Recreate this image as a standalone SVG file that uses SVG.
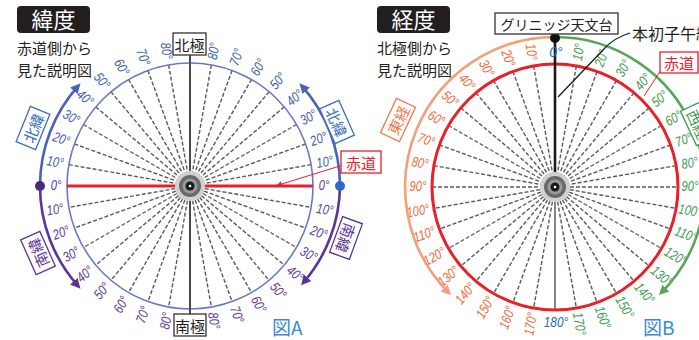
<svg xmlns="http://www.w3.org/2000/svg" width="699" height="340" viewBox="0 0 699 340">
<style>
.t{font-family:"Liberation Sans","Noto Sans CJK JP",sans-serif;font-size:14px;font-style:italic;text-anchor:middle;dominant-baseline:central}
.lb{fill:#3d5cb5}.lp{fill:#633a9c}.eo{fill:#f26b3a}.wg{fill:#3f9a52}.bl{fill:#2a68b8}
.ttl{font-family:"Noto Sans CJK JP",sans-serif;font-size:22px;fill:#fff;text-anchor:middle}
.sub{font-family:"Noto Sans CJK JP",sans-serif;font-size:15px;fill:#231f20}
.box{fill:#fff;stroke:#333;stroke-width:1.3}
.bt{font-family:"Noto Sans CJK JP",sans-serif;font-size:15px;fill:#231f20;text-anchor:middle;dominant-baseline:central}
.rad{stroke:#5a5a5a;stroke-width:1.4;stroke-dasharray:4 2;fill:none}
.fig{font-family:"Noto Sans CJK JP","Liberation Sans",sans-serif;font-size:19px;fill:#3a8ad6}
</style>
<defs>
<marker id="ab" markerUnits="userSpaceOnUse" markerWidth="10" markerHeight="10" refX="7" refY="5" orient="auto"><path d="M0,0 L10,5 L0,10 z" fill="#4a62b8"/></marker>
<marker id="ap" markerUnits="userSpaceOnUse" markerWidth="10" markerHeight="10" refX="7" refY="5" orient="auto"><path d="M0,0 L10,5 L0,10 z" fill="#5b3494"/></marker>
<marker id="ao" markerUnits="userSpaceOnUse" markerWidth="10" markerHeight="10" refX="7" refY="5" orient="auto"><path d="M0,0 L10,5 L0,10 z" fill="#f0a07a"/></marker>
<marker id="ag" markerUnits="userSpaceOnUse" markerWidth="10" markerHeight="10" refX="7" refY="5" orient="auto"><path d="M0,0 L10,5 L0,10 z" fill="#5aa55a"/></marker>
<marker id="ar" markerUnits="userSpaceOnUse" markerWidth="6" markerHeight="6" refX="5" refY="3" orient="auto"><path d="M0,0 L6,3 L0,6 z" fill="#e8202a"/></marker>
<g id="blob"><circle r="15" fill="#d0d0d0"/><circle r="11" fill="#6a6a6a"/><circle r="7.5" fill="#9a9a9a"/><circle r="4.5" fill="#1a1a1a"/><circle r="1.3" fill="#fff"/></g>
</defs>

<g id="title-left">
<rect x="17" y="6" width="73" height="27" rx="4" fill="#231f20"/>
<text class="ttl" x="53.5" y="28">緯度</text>
<text class="sub" x="17" y="54">赤道側から</text>
<text class="sub" x="17" y="76">見た説明図</text>
</g>
<g id="title-right">
<rect x="377" y="6" width="73" height="27" rx="4" fill="#231f20"/>
<text class="ttl" x="413.5" y="28">経度</text>
<text class="sub" x="377" y="54">北極側から</text>
<text class="sub" x="377" y="76">見た説明図</text>
</g>

<g id="latitude-lines" transform="translate(190,186)">
<g class="rad">
<line x1="-123" y1="0" x2="123" y2="0" transform="rotate(10)"/>
<line x1="-123" y1="0" x2="123" y2="0" transform="rotate(20)"/>
<line x1="-123" y1="0" x2="123" y2="0" transform="rotate(30)"/>
<line x1="-123" y1="0" x2="123" y2="0" transform="rotate(40)"/>
<line x1="-123" y1="0" x2="123" y2="0" transform="rotate(50)"/>
<line x1="-123" y1="0" x2="123" y2="0" transform="rotate(60)"/>
<line x1="-123" y1="0" x2="123" y2="0" transform="rotate(70)"/>
<line x1="-123" y1="0" x2="123" y2="0" transform="rotate(80)"/>
<line x1="-123" y1="0" x2="123" y2="0" transform="rotate(100)"/>
<line x1="-123" y1="0" x2="123" y2="0" transform="rotate(110)"/>
<line x1="-123" y1="0" x2="123" y2="0" transform="rotate(120)"/>
<line x1="-123" y1="0" x2="123" y2="0" transform="rotate(130)"/>
<line x1="-123" y1="0" x2="123" y2="0" transform="rotate(140)"/>
<line x1="-123" y1="0" x2="123" y2="0" transform="rotate(150)"/>
<line x1="-123" y1="0" x2="123" y2="0" transform="rotate(160)"/>
<line x1="-123" y1="0" x2="123" y2="0" transform="rotate(170)"/>
</g>
<circle r="123" fill="none" stroke="#6878c8" stroke-width="1.6"/>
<line x1="0" y1="-131" x2="0" y2="128" stroke="#4a4a4a" stroke-width="2"/>
<line x1="-123" y1="0" x2="123" y2="0" stroke="#e8202a" stroke-width="3"/>
<use href="#blob"/>
</g>

<g id="latitude-labels" transform="translate(190,186)">
<g class="t lb">
<text transform="rotate(-10) translate(137,0) scale(.8,1)">10°</text>
<text transform="rotate(-20) translate(137,0) scale(.8,1)">20°</text>
<text transform="rotate(-30) translate(137,0) scale(.8,1)">30°</text>
<text transform="rotate(-40) translate(137,0) scale(.8,1)">40°</text>
<text transform="rotate(-50) translate(137,0) scale(.8,1)">50°</text>
<text transform="rotate(-60) translate(137,0) scale(.8,1)">60°</text>
<text transform="rotate(-70) translate(137,0) scale(.8,1)">70°</text>
<text transform="rotate(-80) translate(137,0) scale(.8,1)">80°</text>
<text transform="rotate(190) translate(137,0) rotate(180) scale(.8,1)">10°</text>
<text transform="rotate(200) translate(137,0) rotate(180) scale(.8,1)">20°</text>
<text transform="rotate(210) translate(137,0) rotate(180) scale(.8,1)">30°</text>
<text transform="rotate(220) translate(137,0) rotate(180) scale(.8,1)">40°</text>
<text transform="rotate(230) translate(137,0) rotate(180) scale(.8,1)">50°</text>
<text transform="rotate(240) translate(137,0) rotate(180) scale(.8,1)">60°</text>
<text transform="rotate(250) translate(137,0) rotate(180) scale(.8,1)">70°</text>
<text transform="rotate(260) translate(137,0) rotate(180) scale(.8,1)">80°</text>
</g>
<g class="t lp">
<text transform="translate(134,0) scale(.8,1)">0°</text>
<text transform="translate(-134,0) scale(.8,1)">0°</text>
<text transform="rotate(10) translate(137,0) scale(.8,1)">10°</text>
<text transform="rotate(20) translate(137,0) scale(.8,1)">20°</text>
<text transform="rotate(30) translate(137,0) scale(.8,1)">30°</text>
<text transform="rotate(40) translate(137,0) scale(.8,1)">40°</text>
<text transform="rotate(50) translate(137,0) scale(.8,1)">50°</text>
<text transform="rotate(60) translate(137,0) scale(.8,1)">60°</text>
<text transform="rotate(70) translate(137,0) scale(.8,1)">70°</text>
<text transform="rotate(80) translate(137,0) scale(.8,1)">80°</text>
<text transform="rotate(170) translate(137,0) rotate(180) scale(.8,1)">10°</text>
<text transform="rotate(160) translate(137,0) rotate(180) scale(.8,1)">20°</text>
<text transform="rotate(150) translate(137,0) rotate(180) scale(.8,1)">30°</text>
<text transform="rotate(140) translate(137,0) rotate(180) scale(.8,1)">40°</text>
<text transform="rotate(130) translate(137,0) rotate(180) scale(.8,1)">50°</text>
<text transform="rotate(120) translate(137,0) rotate(180) scale(.8,1)">60°</text>
<text transform="rotate(110) translate(137,0) rotate(180) scale(.8,1)">70°</text>
<text transform="rotate(100) translate(137,0) rotate(180) scale(.8,1)">80°</text>
</g>
</g>

<g id="latitude-arrows" fill="none" stroke-width="2.6">
<path d="M40,186 A150,150 0 0 1 78.5,85.6" stroke="#4a62b8" marker-end="url(#ab)"/>
<path d="M40,186 A150,150 0 0 0 78.5,286.4" stroke="#5b3494" marker-end="url(#ap)"/>
<path d="M340,186 A150,150 0 0 0 301.5,85.6" stroke="#4a62b8" marker-end="url(#ab)"/>
<path d="M340,186 A150,150 0 0 1 303,283" stroke="#5b3494" marker-end="url(#ap)"/>
<circle cx="40" cy="186" r="5" fill="#4a2a80" stroke="none"/>
<circle cx="340" cy="186" r="5" fill="#2a6bc8" stroke="none"/>
<path d="M343,165 L277,185.5" stroke="#e8202a" stroke-width="1" marker-end="url(#ar)"/>
</g>

<g id="north-pole"><rect class="box" x="173" y="33" width="33" height="22"/><text class="bt" x="189.5" y="44">北極</text></g>
<g id="south-pole"><rect class="box" x="174" y="314" width="32" height="22"/><text class="bt" x="190" y="325">南極</text></g>
<g id="equator-left"><rect x="341" y="151" width="40" height="22" fill="#fff" stroke="#e8202a" stroke-width="1.3"/><text class="bt" x="361" y="162" style="fill:#e8202a">赤道</text></g>
<g id="north-lat-left" transform="translate(33,128) rotate(-68)"><rect x="-19" y="-10.5" width="38" height="21" fill="#fff" stroke="#3a6ec0" stroke-width="1.3"/><text class="bt" style="fill:#3a6ec0" x="0" y="0">北緯</text></g>
<g id="north-lat-right" transform="translate(337,122) rotate(66)"><rect x="-19" y="-10.5" width="38" height="21" fill="#fff" stroke="#3a6ec0" stroke-width="1.3"/><text class="bt" style="fill:#3a6ec0" x="0" y="0">北緯</text></g>
<g id="south-lat-right" transform="translate(346,238) rotate(110)"><rect x="-19" y="-10.5" width="38" height="21" fill="#fff" stroke="#5b3494" stroke-width="1.3"/><text class="bt" style="fill:#5b3494" x="0" y="0">南緯</text></g>
<g id="south-lat-left" transform="translate(38,253) rotate(-114)"><rect x="-19" y="-10.5" width="38" height="21" fill="#fff" stroke="#5b3494" stroke-width="1.3"/><text class="bt" style="fill:#5b3494" x="0" y="0">南緯</text></g>
<text class="fig" x="272" y="335">図A</text>

<g id="longitude-lines" transform="translate(555,187)">
<g class="rad">
<line x1="-123" y1="0" x2="123" y2="0"/>
<line x1="-123" y1="0" x2="123" y2="0" transform="rotate(10)"/>
<line x1="-123" y1="0" x2="123" y2="0" transform="rotate(20)"/>
<line x1="-123" y1="0" x2="123" y2="0" transform="rotate(30)"/>
<line x1="-123" y1="0" x2="123" y2="0" transform="rotate(40)"/>
<line x1="-123" y1="0" x2="123" y2="0" transform="rotate(50)"/>
<line x1="-123" y1="0" x2="123" y2="0" transform="rotate(60)"/>
<line x1="-123" y1="0" x2="123" y2="0" transform="rotate(70)"/>
<line x1="-123" y1="0" x2="123" y2="0" transform="rotate(80)"/>
<line x1="-123" y1="0" x2="123" y2="0" transform="rotate(100)"/>
<line x1="-123" y1="0" x2="123" y2="0" transform="rotate(110)"/>
<line x1="-123" y1="0" x2="123" y2="0" transform="rotate(120)"/>
<line x1="-123" y1="0" x2="123" y2="0" transform="rotate(130)"/>
<line x1="-123" y1="0" x2="123" y2="0" transform="rotate(140)"/>
<line x1="-123" y1="0" x2="123" y2="0" transform="rotate(150)"/>
<line x1="-123" y1="0" x2="123" y2="0" transform="rotate(160)"/>
<line x1="-123" y1="0" x2="123" y2="0" transform="rotate(170)"/>
</g>
<line x1="0" y1="0" x2="0" y2="123" stroke="#666" stroke-width="1.6"/>
<circle r="123" fill="none" stroke="#e8202a" stroke-width="3"/>
<line x1="0" y1="-149" x2="0" y2="0" stroke="#1a1a1a" stroke-width="2.6"/>
<use href="#blob"/>
</g>

<g id="longitude-labels" transform="translate(555,187)">
<text class="t bl" x="1" y="-135">0°</text>
<text class="t bl" x="1" y="135" transform="translate(1,135) scale(.85,1) translate(-1,-135)">180°</text>
<g class="t eo">
<text transform="rotate(260) translate(137,0) rotate(180) scale(.8,1)">10°</text>
<text transform="rotate(250) translate(137,0) rotate(180) scale(.8,1)">20°</text>
<text transform="rotate(240) translate(137,0) rotate(180) scale(.8,1)">30°</text>
<text transform="rotate(230) translate(137,0) rotate(180) scale(.8,1)">40°</text>
<text transform="rotate(220) translate(137,0) rotate(180) scale(.8,1)">50°</text>
<text transform="rotate(210) translate(137,0) rotate(180) scale(.8,1)">60°</text>
<text transform="rotate(200) translate(137,0) rotate(180) scale(.8,1)">70°</text>
<text transform="rotate(190) translate(137,0) rotate(180) scale(.8,1)">80°</text>
<text transform="rotate(180) translate(137,0) rotate(180) scale(.8,1)">90°</text>
<text transform="rotate(170) translate(139,0) rotate(180) scale(.8,1)">100°</text>
<text transform="rotate(160) translate(139,0) rotate(180) scale(.8,1)">110°</text>
<text transform="rotate(150) translate(139,0) rotate(180) scale(.8,1)">120°</text>
<text transform="rotate(140) translate(139,0) rotate(180) scale(.8,1)">130°</text>
<text transform="rotate(130) translate(139,0) rotate(180) scale(.8,1)">140°</text>
<text transform="rotate(120) translate(139,0) rotate(180) scale(.8,1)">150°</text>
<text transform="rotate(110) translate(139,0) rotate(180) scale(.8,1)">160°</text>
<text transform="rotate(100) translate(139,0) rotate(180) scale(.8,1)">170°</text>
</g>
<g class="t wg">
<text transform="rotate(-80) translate(137,0) scale(.8,1)">10°</text>
<text transform="rotate(-70) translate(137,0) scale(.8,1)">20°</text>
<text transform="rotate(-60) translate(137,0) scale(.8,1)">30°</text>
<text transform="rotate(-50) translate(137,0) scale(.8,1)">40°</text>
<text transform="rotate(-40) translate(137,0) scale(.8,1)">50°</text>
<text transform="rotate(-30) translate(137,0) scale(.8,1)">60°</text>
<text transform="rotate(-20) translate(137,0) scale(.8,1)">70°</text>
<text transform="rotate(-10) translate(137,0) scale(.8,1)">80°</text>
<text transform="rotate(0) translate(135,0) scale(.8,1)">90°</text>
<text transform="rotate(10) translate(137,0) scale(.8,1)">100°</text>
<text transform="rotate(20) translate(139,0) scale(.8,1)">110°</text>
<text transform="rotate(30) translate(139,0) scale(.8,1)">120°</text>
<text transform="rotate(40) translate(139,0) scale(.8,1)">130°</text>
<text transform="rotate(50) translate(139,0) scale(.8,1)">140°</text>
<text transform="rotate(60) translate(139,0) scale(.8,1)">150°</text>
<text transform="rotate(70) translate(139,0) scale(.8,1)">160°</text>
<text transform="rotate(80) translate(139,0) scale(.8,1)">170°</text>
</g>
</g>

<g id="longitude-arrows" fill="none" stroke-width="2.6">
<path d="M555,37 A150,150 0 0 0 449,293" stroke="#f0a07a" marker-end="url(#ao)"/>
<path d="M555,37 A150,150 0 0 1 661,293" stroke="#5aa55a" marker-end="url(#ag)"/>
<circle cx="555" cy="38" r="5" fill="#111" stroke="none"/>
<path d="M558,97 L603,50 Q613,38 630,33" stroke="#1a1a1a" stroke-width="1.3"/>
<path d="M661,70 L644,96" stroke="#e8202a" stroke-width="1"/>
</g>

<g id="greenwich"><rect class="box" x="495" y="13" width="123" height="21"/><text class="bt" x="556.5" y="23.5" style="font-size:14px">グリニッジ天文台</text></g>
<g id="prime-meridian"><text class="sub" x="632" y="40" style="font-size:16px">本初子午線</text></g>
<g id="equator-right"><rect x="660" y="52" width="38" height="21" fill="#fff" stroke="#e8202a" stroke-width="1.3"/><text class="bt" x="679" y="62.5" style="fill:#e8202a">赤道</text></g>
<g id="east-long" transform="translate(398,120) rotate(-65)"><rect x="-19" y="-10.5" width="38" height="21" fill="#fff" stroke="#f07a4a" stroke-width="1.3"/><text class="bt" style="fill:#f07a4a" x="0" y="0">東経</text></g>
<g id="west-long" transform="translate(698,124) rotate(65)"><rect x="-19" y="-10.5" width="38" height="21" fill="#fff" stroke="#3f9a52" stroke-width="1.3"/><text class="bt" style="fill:#3f9a52" x="0" y="0">西経</text></g>
<text class="fig" x="643" y="335">図B</text>
</svg>
